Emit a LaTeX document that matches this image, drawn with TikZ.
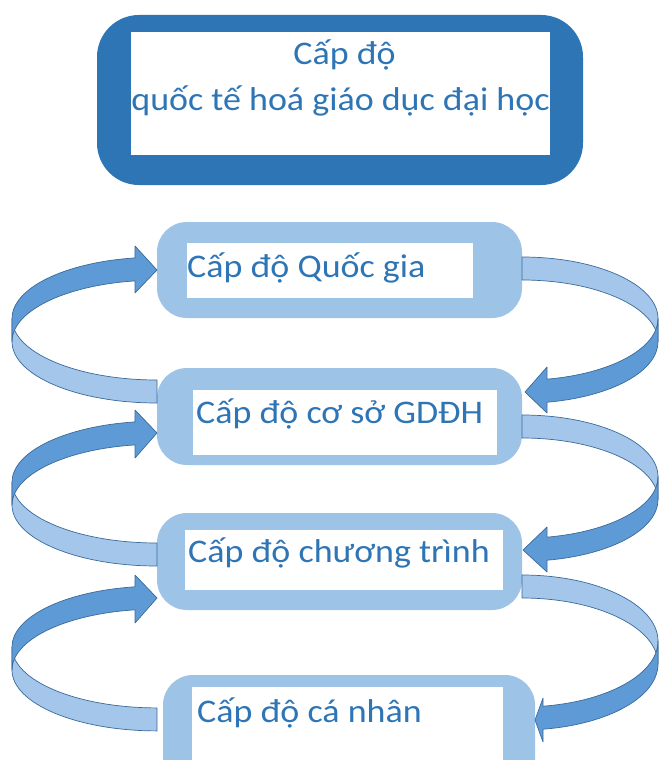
\documentclass[tikz,border=0pt]{standalone}
\usepackage{fontspec}
\setmainfont[FakeStretch=1.09]{Carlito}
\definecolor{topblue}{HTML}{2E75B6}
\definecolor{lvlblue}{HTML}{9DC3E6}
\definecolor{darkface}{HTML}{5E9BD6}
\definecolor{lightface}{HTML}{A3C6EA}
\definecolor{edgeblue}{HTML}{3A6A9A}
\definecolor{txtblue}{HTML}{2E75B6}
\tikzset{
  topbox/.style={fill=topblue, rounded corners=42pt, inner sep=0pt},
  lvlbox/.style={fill=lvlblue, rounded corners=30pt, inner sep=0pt},
  whitebox/.style={fill=white, inner sep=0pt},
  lvltext/.style={anchor=base west, inner sep=0pt, text=txtblue, font=\fontsize{33}{40}\selectfont},
  ttext/.style={anchor=base, inner sep=0pt, text=txtblue, font=\fontsize{33}{40}\selectfont},
  backface/.style={fill=lightface, draw=edgeblue, line width=0.7pt, line join=round},
  frontface/.style={fill=darkface, draw=edgeblue, line width=0.7pt, line join=round},
}
\begin{document}
\begin{tikzpicture}[x=1pt,y=-1pt]
\useasboundingbox (0,0) rectangle (659,760);
\clip (0,0) rectangle (659,760);
% top box
\node[topbox, minimum width=486pt, minimum height=170pt] (top) at (340,100) {};
\node[whitebox, minimum width=419pt, minimum height=123pt] (topw) at (340.5,93.5) {};
\node[ttext] (t1) at (344.5,65) {Cấp độ};
\node[ttext] (t2) at (340.5,110) {quốc tế hoá giáo dục đại học};
% level boxes
\node[lvlbox, minimum width=365pt, minimum height=96pt] (b1) at (339.5,270) {};
\node[whitebox, minimum width=286pt, minimum height=55pt] (w1) at (330,270.5) {};
\node[lvlbox, minimum width=365pt, minimum height=97pt] (b2) at (339.5,416.5) {};
\node[whitebox, minimum width=304pt, minimum height=65pt] (w2) at (345,422.5) {};
\node[lvlbox, minimum width=365pt, minimum height=97pt] (b3) at (339.5,561.5) {};
\node[whitebox, minimum width=318pt, minimum height=60pt] (w3) at (344,560) {};
\node[lvlbox, minimum width=372pt, minimum height=130pt] (b4) at (349,740) {};
\node[whitebox, minimum width=311pt, minimum height=100pt] (w4) at (347.5,737) {};
\node[lvltext] (l1) at (187,277) {Cấp độ Quốc gia};
\node[lvltext] (l2) at (196,423) {Cấp độ cơ sở GDĐH};
\node[lvltext] (l3) at (188,562) {Cấp độ chương trình};
\node[lvltext] (l4) at (197,722) {Cấp độ cá nhân};
% left arrows (pointing right)
% L1: c=318.6 r=61.4
\path[backface] (157,380) arc[start angle=90,end angle=180,x radius=145,y radius=61.4] -- (12,341.6)
  arc[start angle=180,end angle=90,x radius=145,y radius=61.4] -- cycle;
\path[frontface] (12,318.6) arc[start angle=180,end angle=261.27,x radius=145,y radius=61.4]
  -- (135,246) -- (157,270) -- (135,293) -- (135,280.9)
  arc[start angle=261.27,end angle=180,x radius=145,y radius=61.4] -- cycle;
% L2: c=482.1 r=60.9
\path[backface] (157,543) arc[start angle=90,end angle=180,x radius=145,y radius=60.9] -- (12,505.1)
  arc[start angle=180,end angle=90,x radius=145,y radius=60.9] -- cycle;
\path[frontface] (12,482.1) arc[start angle=180,end angle=261.27,x radius=145,y radius=60.9]
  -- (135,410) -- (157,433) -- (135,458) -- (135,444.9)
  arc[start angle=261.27,end angle=180,x radius=145,y radius=60.9] -- cycle;
% L3: c=647 r=60.9
\path[backface] (157,707.9) arc[start angle=90,end angle=180,x radius=145,y radius=60.9] -- (12,670)
  arc[start angle=180,end angle=90,x radius=145,y radius=60.9] -- cycle;
\path[frontface] (12,647) arc[start angle=180,end angle=261.27,x radius=145,y radius=60.9]
  -- (135,575) -- (157,598) -- (135,623) -- (135,609.8)
  arc[start angle=261.27,end angle=180,x radius=145,y radius=60.9] -- cycle;
% right arrows (pointing left)
% R1: c=318.6 r=61.6
\path[backface] (522,257) arc[start angle=270,end angle=360,x radius=136,y radius=61.6] -- (658,341.6)
  arc[start angle=360,end angle=270,x radius=136,y radius=61.6] -- cycle;
\path[frontface] (658,318.6) arc[start angle=0,end angle=79.41,x radius=136,y radius=61.6]
  -- (547,367) -- (525,392) -- (547,413) -- (547,402.2)
  arc[start angle=79.41,end angle=0,x radius=136,y radius=61.6] -- cycle;
% R2: c=476.6 r=61.6
\path[backface] (522,415) arc[start angle=270,end angle=360,x radius=136,y radius=61.6] -- (658,499.6)
  arc[start angle=360,end angle=270,x radius=136,y radius=61.6] -- cycle;
\path[frontface] (658,476.6) arc[start angle=0,end angle=79.41,x radius=136,y radius=61.6]
  -- (547,527) -- (523,550) -- (547,572) -- (547,560.2)
  arc[start angle=79.41,end angle=0,x radius=136,y radius=61.6] -- cycle;
% R3: c=641 r=66
\path[backface] (522,575) arc[start angle=270,end angle=360,x radius=136,y radius=66] -- (658,664)
  arc[start angle=360,end angle=270,x radius=136,y radius=66] -- cycle;
\path[frontface] (658,641) arc[start angle=0,end angle=81.12,x radius=136,y radius=66]
  -- (543,698) -- (535,720) -- (543,742) -- (543,729.2)
  arc[start angle=81.12,end angle=0,x radius=136,y radius=66] -- cycle;
\end{tikzpicture}
\end{document}
